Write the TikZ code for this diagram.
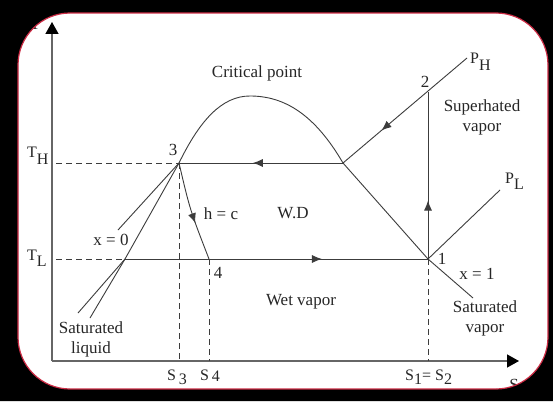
\documentclass[tikz,border=0pt]{standalone}
\usepackage{fontspec}
\setmainfont{Liberation Serif}
\usetikzlibrary{arrows.meta,decorations.markings}
\definecolor{framered}{RGB}{205,45,70}
\definecolor{inkgray}{RGB}{60,60,60}
\newcommand{\lowsub}[2][-4pt]{\raisebox{#1}{#2}}

\tikzset{
  lbl/.style={font=\fontsize{17}{20}\selectfont, inner sep=1pt, text=black!85, align=center},
  sublbl/.style={lbl, font=\fontsize{16}{19}\selectfont, anchor=base west},
  curve/.style={draw=inkgray, line width=0.9pt},
  guide/.style={draw=inkgray, line width=0.9pt, dash pattern=on 6pt off 4pt},
  axisline/.style={draw=black!60, line width=1.4pt, -{Triangle[length=12pt,width=13pt,color=black]}},
  midarrow/.style={postaction={decorate}, decoration={markings,
      mark=at position #1 with {\arrow{Latex[length=10pt,width=8pt]}}}},
}

\begin{document}
\begin{tikzpicture}[x=1pt,y=-1pt]
  \useasboundingbox (0,0) rectangle (553,401);
  \fill[white] (0,0) rectangle (553,401);
  % states of the cycle
  \coordinate (O) at (52,361);
  \coordinate (p1) at (428,259);
  \coordinate (p2) at (428,92);
  \coordinate (p3) at (179,163);
  \coordinate (p4) at (209,259);
  \coordinate (pv) at (343,163);
  \coordinate (pc) at (125,259);
  \coordinate (top) at (250,96);
  \coordinate (ph) at (467,58);
  \coordinate (pl) at (500,190);
  \coordinate (vend) at (473,298);
  \coordinate (lend1) at (90,318);
  \coordinate (lend2) at (78,313);
  \coordinate (xend) at (118,230);
  % axes
  \draw[axisline] (O) -- (52,22);
  \draw[axisline] (O) -- (519,361);
  \node[lbl] (tax) at (35,24) {T};
  \node[lbl] (sax) at (514,385) {S};
  % dome and constant quality lines
  \draw[curve] (p3) .. controls (200,120) and (222,96) .. (top)
               .. controls (285,96) and (315,115) .. (pv) -- (p1) -- (vend);
  \draw[curve] (p3) -- (pc) -- (lend1);
  \draw[curve] (pc) -- (lend2);
  \draw[curve] (p3) -- (xend);
  % cycle
  \draw[curve, midarrow=0.55] (pv) -- (p3);
  \draw[curve, midarrow=0.65] (pc) -- (p1);
  \draw[curve, midarrow=0.35] (p1) -- (p2);
  \draw[curve, midarrow=0.69] (ph) -- (pv);
  \draw[curve, midarrow=0.62] (p3) .. controls (190,210) .. (p4);
  \draw[curve] (p1) -- (pl);
  % guide lines
  \draw[guide] (56,163) -- (p3);
  \draw[guide] (56,259) -- (pc);
  \draw[guide] (p3) -- (p3 |- O);
  \draw[guide] (p4) -- (p4 |- O);
  \draw[guide] (p1) -- (p1 |- O);
  % labels
  \node[lbl] (crit) at (257,73) {Critical point};
  \node[lbl] (sup) at (482,117) {Superhated\\vapor};
  \node[lbl] (satv) at (485,318) {Saturated\\vapor};
  \node[lbl] (satl) at (91,339) {Saturated\\liquid};
  \node[lbl] (wet) at (301,302) {Wet vapor};
  \node[lbl] (wd) at (293,213) {W.D};
  \node[lbl] (hc) at (221,214) {h = c};
  \node[lbl] (xz) at (111,240) {x = 0};
  \node[lbl] (xo) at (477,274) {x = 1};
  \node[lbl] (n1) at (442,259) {1};
  \node[lbl] (n2) at (425,82) {2};
  \node[lbl] (n3) at (173,150) {3};
  \node[lbl] (n4) at (218,273) {4};
  \node[sublbl] (lph) at (469,64) {P\lowsub[-7pt]{H}};
  \node[sublbl] (lpl) at (504,183) {P\lowsub[-6pt]{L}};
  \node[sublbl] (lth) at (26,157) {T\lowsub[-7pt]{H}};
  \node[sublbl] (ltl) at (26,260) {T\lowsub[-6pt]{L}};
  \node[sublbl] (ls3) at (166,380) {S\,\lowsub{3}};
  \node[sublbl] (ls4) at (199,380) {S\,\lowsub[-1pt]{4}};
  \node[sublbl] (ls12) at (404,380) {S\lowsub{1}= S\lowsub{2}};
  % frame
  \fill[black, even odd rule] (0,0) rectangle (553,401)
       [rounded corners=52pt] (18,13) rectangle (548,389);
  \draw[framered, line width=1.2pt, rounded corners=52pt] (18,13) rectangle (548,389);
\end{tikzpicture}
\end{document}
